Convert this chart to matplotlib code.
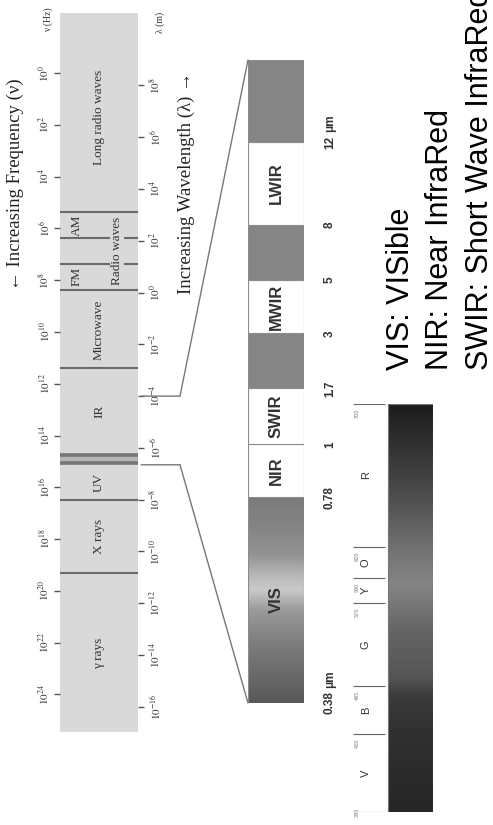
import numpy as np
import matplotlib.pyplot as plt
from matplotlib.colors import LinearSegmentedColormap
from matplotlib.patches import ConnectionPatch
from matplotlib.transforms import blended_transform_factory as blend

plt.rcParams["mathtext.fontset"] = "stix"
SERIF = ["Liberation Serif", "DejaVu Serif"]
SANS = ["Liberation Sans", "DejaVu Sans"]

# --- data -------------------------------------------------------------
C_LOG = np.log10(3e8)                       # log10 speed of light
freq_ticks = list(range(0, 25, 2))          # log10 nu (Hz)
wave_ticks = list(range(8, -17, -2))        # log10 lambda (m)
band_edges = [5.37, 6.37, 7.37, 8.38, 11.39, 16.49, 19.31]
visible_edges = [14.75, 15.06]
band_names = ["Long radio waves", "Microwave", "IR", "UV", "X rays", "γ rays"]
band_centers = [1.7, 9.9, 13.05, 15.8, 17.9, 22.4]
radio_names = ["AM", "FM"]
radio_centers = [5.87, 7.87]

seg_names = ["VIS", "NIR", "SWIR", "", "MWIR", "", "LWIR", ""]
seg_size = [3.75, 0.96, 1.02, 1.0, 0.98, 1.0, 1.5, 1.5]
seg_fill = ["grad", "white", "white", "#858585", "white", "#858585", "white", "#858585"]
edge_labels = ["0.38", "0.78", "1", "1.7", "3", "5", "8", "12"]

vis_nm = ["380", "450", "495", "570", "590", "620", "700"]
vis_pos = [0.0, 0.191, 0.309, 0.512, 0.574, 0.650, 1.0]
vis_colors = ["V", "B", "G", "Y", "O", "R"]

legend_lines = ["VIS: VISible", "NIR: Near InfraRed", "SWIR: Short Wave InfraRed"]

W, H = 493, 825
fig = plt.figure(figsize=(W / 100, H / 100), dpi=100)


def box(x0, y0, x1, y1):
    return [x0 / W, 1 - y1 / H, (x1 - x0) / W, (y1 - y0) / H]


# --- EM spectrum panel ------------------------------------------------
ax = fig.add_axes(box(60, 13, 138, 732))
ax.set_facecolor("#d9d9d9")
ax.set_xlim(0, 1)
ax.set_ylim(25.45, -2.32)
for s in ax.spines.values():
    s.set_visible(False)
ax.set_xticks([])
ax.set_yticks(freq_ticks)
ax.set_yticklabels([rf"$10^{{{v}}}$" for v in freq_ticks], rotation=90,
                   va="center", fontsize=8, color="#333333")
ax.tick_params(axis="y", length=4, width=1, color="#555555", pad=2)

sec = ax.secondary_yaxis("right", functions=(lambda v: C_LOG - v, lambda l: C_LOG - l))
sec.spines["right"].set_visible(False)
sec.set_yticks(wave_ticks)
sec.set_yticklabels([rf"$10^{{{v}}}$" for v in wave_ticks], rotation=90,
                    va="center", fontsize=8, color="#333333")
sec.tick_params(axis="y", length=4, width=1, color="#555555", pad=3)

for e in band_edges:
    ax.axhline(e, color="#6a6a6a", lw=1.5)
for e in visible_edges:
    ax.axhline(e, color="#777777", lw=2.6)
ax.axhspan(*visible_edges, color="#b5b5b5", zorder=0)

for name, c in zip(band_names, band_centers):
    ax.text(0.5, c, name, rotation=90, ha="center", va="center",
            family=SERIF, fontsize=9.5, color="#333333")
for name, c in zip(radio_names, radio_centers):
    ax.text(0.21, c, name, rotation=90, ha="center", va="center",
            family=SERIF, fontsize=9.5, color="#333333")
ax.text(0.73, np.mean(radio_centers), "Radio waves", rotation=90, ha="center",
        va="center", family=SERIF, fontsize=9.5, color="#333333",
        bbox=dict(boxstyle="square,pad=0.05", fc="#d9d9d9", ec="none"))

fig.text(48 / W, 1 - 20 / H, "ν (Hz)", rotation=90, ha="center", va="center",
         family=SERIF, fontsize=7, color="#333333")
fig.text(160 / W, 1 - 22 / H, "λ (m)", rotation=90, ha="center", va="center",
         family=SERIF, fontsize=7, color="#333333")
fig.text(15 / W, 1 - 184 / H, "← Increasing Frequency (ν)", rotation=90,
         ha="center", va="center", family=SERIF, fontsize=13.5, color="#222222")
fig.text(186 / W, 1 - 183 / H, "Increasing Wavelength (λ) →", rotation=90,
         ha="center", va="center", family=SERIF, fontsize=13.5, color="#222222")

# --- zoomed IR/VIS bar ------------------------------------------------
axb = fig.add_axes(box(248, 60, 304, 703))
bottoms = np.concatenate([[0], np.cumsum(seg_size)[:-1]])
total = sum(seg_size)
axb.set_xlim(-0.5, 0.5)
axb.set_ylim(0, total)
axb.axis("off")
for b, h, f in zip(bottoms, seg_size, seg_fill):
    axb.bar(0, h, bottom=b, width=1, color="none" if f == "grad" else f,
            edgecolor="#8c8c8c", lw=0.8, zorder=2)
vis_cmap = LinearSegmentedColormap.from_list(
    "vis", [(0, "#595959"), (0.15, "#6b6b6b"), (0.3, "#7f7f7f"), (0.45, "#9a9a9a"),
            (0.55, "#cacaca"), (0.62, "#b8b8b8"), (0.72, "#939393"),
            (0.85, "#858585"), (1, "#7a7a7a")])
axb.imshow(np.linspace(0, 1, 256)[:, None], cmap=vis_cmap, aspect="auto",
           origin="lower", extent=(-0.5, 0.5, 0, seg_size[0]), zorder=1)
for name, b, h in zip(seg_names, bottoms, seg_size):
    if name:
        axb.text(0, b + h / 2, name, rotation=90, ha="center", va="center",
                 family=SANS, fontweight="bold", fontsize=12, color="#333333", zorder=3)
tb = blend(axb.transAxes, axb.transData)
for lab, b in zip(edge_labels, bottoms):
    t = axb.text(1.46, b, lab, transform=tb, rotation=90, ha="center", va="center",
                 family=SANS, fontweight="bold", fontsize=8.5, color="#333333")
    if lab in ("0.38", "12"):
        axb.annotate("μm", xy=(0.5, 1), xycoords=t, xytext=(0, 2.5),
                     textcoords="offset points", rotation=90, ha="center",
                     va="bottom", family=SANS, fontweight="bold", fontsize=8.5,
                     color="#333333")

# connector lines
kx = 180 / W
tpanel = blend(ax.transAxes, ax.transData)
tkink = blend(fig.transFigure, ax.transData)
for yv, corner in [(C_LOG + 4, (0, 1)), (visible_edges[1] + 0.07, (0, 0))]:
    fig.add_artist(ConnectionPatch((1.04, yv), (kx, yv), coordsA=tpanel,
                                   coordsB=tkink, color="#777777", lw=1))
    fig.add_artist(ConnectionPatch((kx, yv), corner, coordsA=tkink,
                                   coordsB=axb.transAxes, color="#777777", lw=1))

# --- visible colour bar -----------------------------------------------
axv = fig.add_axes(box(350, 404, 433, 812))
axv.set_xlim(0, 1)
axv.set_ylim(0, 1)
axv.axis("off")
gray_cmap = LinearSegmentedColormap.from_list(
    "vg", [(0, "#262626"), (0.19, "#303030"), (0.28, "#3a3a3a"), (0.33, "#555555"),
           (0.45, "#666666"), (0.56, "#858585"), (0.64, "#737373"),
           (0.8, "#474747"), (1, "#1c1c1c")])
axv.imshow(np.linspace(0, 1, 256)[:, None], cmap=gray_cmap, aspect="auto",
           origin="lower", extent=(0.458, 1, 0, 1))
axv.add_patch(plt.Rectangle((0.458, 0), 0.542, 1, fill=False, ec="#777777", lw=0.8))
axv.hlines(vis_pos, 0.036, 0.42, color="#666666", lw=0.8)
for lab, p in zip(vis_nm, vis_pos):
    axv.text(0.085, p - 0.012 if p < 1 else p - 0.012, lab, rotation=90,
             ha="center", va="top" if p > 0 else "bottom", fontsize=3.5,
             color="#777777")
for lab, a, b in zip(vis_colors, vis_pos[:-1], vis_pos[1:]):
    axv.text(0.19, (a + b) / 2, lab, rotation=90, ha="center", va="center",
             family=SANS, fontsize=8, color="#333333")

# --- legend text --------------------------------------------------------
for line, x in zip(legend_lines, [401, 440, 480]):
    fig.text(x / W, 1 - 370 / H, line, rotation=90, ha="center", va="bottom",
             family=SANS, fontsize=22, color="black")

fig.savefig("out.png", dpi=100)
